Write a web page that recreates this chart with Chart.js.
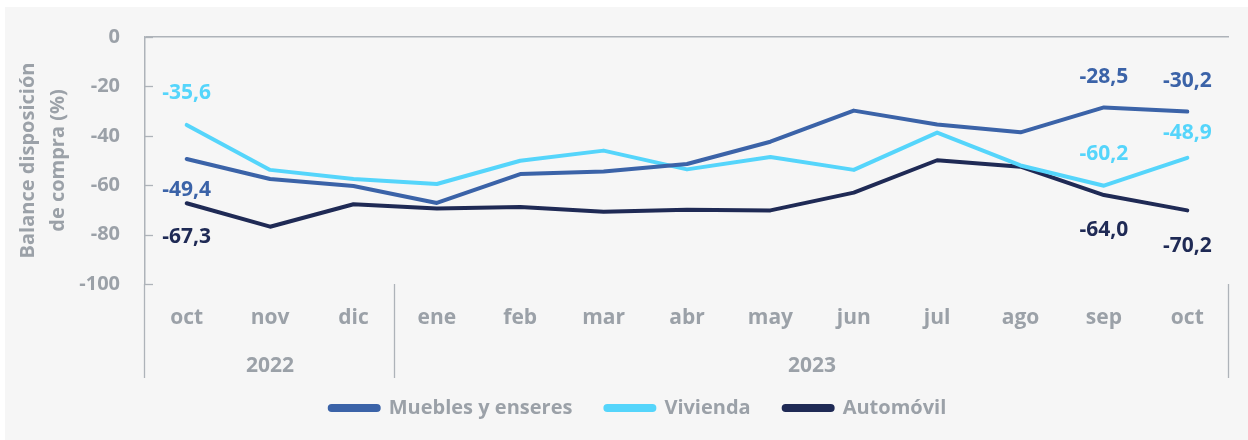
<!DOCTYPE html>
<html>
<head>
<meta charset="utf-8">
<script src="https://cdn.jsdelivr.net/npm/chart.js@4/dist/chart.umd.min.js"></script>
<style>
  html, body { margin: 0; padding: 0; background: #ffffff; width: 1248px; height: 440px; overflow: hidden; }
  #wrap { position: absolute; left: 5px; top: 7px; width: 1243px; height: 433px; background: #f6f6f6; }
  canvas { display: block; }
</style>
</head>
<body>
<div id="wrap"><canvas id="c" width="1243" height="433"></canvas></div>
<script>
const categories = ['oct', 'nov', 'dic', 'ene', 'feb', 'mar', 'abr', 'may', 'jun', 'jul', 'ago', 'sep', 'oct'];
const yearGroups = ['2022', '2023'];
const yearStart = [0, 3];
const yearEnd = [2, 12];
const muebles = [-49.4, -57.5, -60.3, -67.2, -55.5, -54.5, -51.4, -42.4, -29.8, -35.4, -38.6, -28.5, -30.2];
const vivienda = [-35.6, -53.8, -57.5, -59.5, -50.1, -46.0, -53.6, -48.6, -53.8, -38.7, -52.0, -60.2, -48.9];
const automovil = [-67.3, -76.8, -67.7, -69.4, -68.8, -70.7, -69.9, -70.2, -63.0, -49.9, -52.5, -64.0, -70.2];
const seriesNames = ['Muebles y enseres', 'Vivienda', 'Automóvil'];
const labeledIndexes = [0, 11, 12];
const yTicks = [0, -20, -40, -60, -80, -100];

const GRAY = '#9ba1a8';
const LINE = '#aeb3b9';
const FONT = '"Open Sans", Lato, sans-serif';
const colors = ['#3b63a8', '#55d5fb', '#1f2a55'];
// vertical label offsets (px) for each series at labeled indexes
const labelOffsets = [[31, -30, -31], [-32, -32, -25], [34, 35, 36]];

function fmt(v) { return v.toFixed(1).replace('.', ','); }

const decor = {
  id: 'decor',
  afterLayout(chart) {
    if (chart.legend) { chart.legend.left += 21; chart.legend.right += 21; chart.legend.top += 1; chart.legend.bottom += 1; }
  },
  afterDraw(chart) {
    const ctx = chart.ctx;
    const ca = chart.chartArea;
    const xs = chart.scales.x;
    const ys = chart.scales.y;
    const step = xs.getPixelForValue(1) - xs.getPixelForValue(0);
    ctx.save();
    ctx.strokeStyle = LINE;
    ctx.lineWidth = 1.3;
    yTicks.forEach(t => {
      const py = Math.round(ys.getPixelForValue(t)) + 0.5;
      ctx.beginPath(); ctx.moveTo(ca.left, py); ctx.lineTo(ca.left + 8, py); ctx.stroke();
    });
    const depth = 94;
    const bounds = [];
    yearGroups.forEach((g, i) => {
      bounds.push(xs.getPixelForValue(yearStart[i]) - step / 2);
    });
    bounds.push(xs.getPixelForValue(yearEnd[yearEnd.length - 1]) + step / 2);
    bounds.forEach(bx => {
      const px = Math.round(bx) - 0.5;
      ctx.beginPath(); ctx.moveTo(px, ca.bottom); ctx.lineTo(px, ca.bottom + depth); ctx.stroke();
    });
    ctx.fillStyle = GRAY;
    ctx.font = 'bold 21px ' + FONT;
    ctx.textAlign = 'center';
    ctx.textBaseline = 'middle';
    yearGroups.forEach((g, i) => {
      const cx = (xs.getPixelForValue(yearStart[i]) + xs.getPixelForValue(yearEnd[i])) / 2;
      ctx.fillText(g, cx, ca.bottom + 82);
    });
    ctx.font = 'bold 21px ' + FONT;
    chart.data.datasets.forEach((ds, di) => {
      const meta = chart.getDatasetMeta(di);
      labeledIndexes.forEach((idx, k) => {
        const pt = meta.data[idx];
        ctx.fillStyle = colors[di];
        ctx.fillText(fmt(ds.data[idx]), pt.x, pt.y + labelOffsets[di][k]);
      });
    });
    ctx.restore();
  }
};

new Chart(document.getElementById('c'), {
  type: 'line',
  data: {
    labels: categories,
    datasets: [
      { label: seriesNames[0], data: muebles, borderColor: colors[0], backgroundColor: colors[0] },
      { label: seriesNames[1], data: vivienda, borderColor: colors[1], backgroundColor: colors[1] },
      { label: seriesNames[2], data: automovil, borderColor: colors[2], backgroundColor: colors[2] }
    ]
  },
  options: {
    responsive: false,
    animation: false,
    devicePixelRatio: 1,
    layout: { padding: { top: 30, right: 19, bottom: 13, left: 0 } },
    elements: {
      line: { borderWidth: 4, tension: 0, borderCapStyle: 'round', borderJoinStyle: 'round' },
      point: { radius: 0, hoverRadius: 0 }
    },
    plugins: {
      tooltip: { enabled: false },
      legend: {
        position: 'bottom',
        labels: {
          color: GRAY,
          font: { family: FONT, size: 20, weight: 'bold' },
          boxWidth: 49,
          boxHeight: 4,
          useBorderRadius: true,
          borderRadius: 2,
          padding: 33
        }
      }
    },
    scales: {
      x: {
        offset: true,
        grid: { display: false, drawTicks: false },
        border: { display: false },
        ticks: { color: GRAY, font: { family: FONT, size: 21, weight: 'bold' }, padding: 21, maxRotation: 0, autoSkip: false },
        afterFit: s => { s.height = 80; }
      },
      y: {
        min: -100,
        max: 0,
        afterBuildTicks: s => { s.ticks = yTicks.map(v => ({ value: v })); },
        grid: {
          drawTicks: false,
          color: c => (c.tick && c.tick.value === 0 ? LINE : 'rgba(0,0,0,0)'),
          lineWidth: 1.5
        },
        border: { display: true, color: LINE, width: 1.5 },
        ticks: { color: GRAY, font: { family: FONT, size: 20, weight: 'bold' }, padding: 25 },
        title: {
          display: true,
          text: ['Balance disposición', 'de compra (%)'],
          color: GRAY,
          font: { family: FONT, size: 20, weight: 'bold', lineHeight: 1.5 },
          padding: { top: 8, bottom: 0 }
        },
        afterFit: s => { s.width = 140; s.paddingTop = 0; s.paddingBottom = 0; }
      }
    }
  },
  plugins: [decor]
});
</script>
</body>
</html>
